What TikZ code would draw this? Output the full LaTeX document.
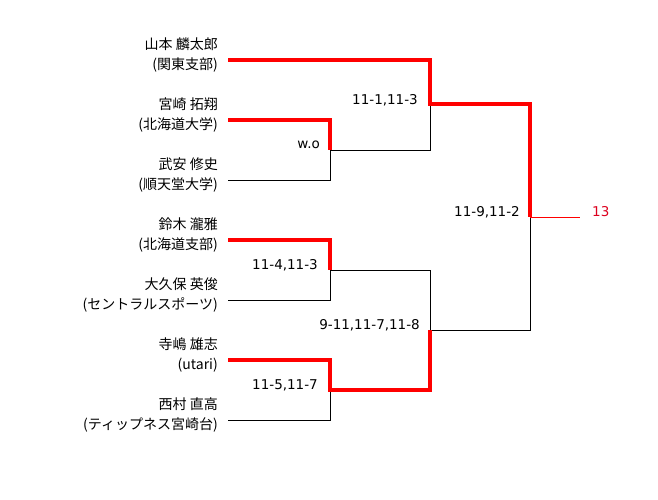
\documentclass[tikz,border=0pt]{standalone}
\usepackage{fontspec}
\setmainfont{Noto Sans CJK JP}
\newfontfamily\scorefont{DejaVu Sans}
\definecolor{winred}{RGB}{255,0,0}
\definecolor{champ}{RGB}{220,0,30}
\begin{document}
\begin{tikzpicture}[x=1pt,y=-1pt,
  namebox/.style={anchor=east,align=right,inner sep=0pt,font=\fontsize{14}{20}\selectfont},
  score/.style={anchor=east,inner sep=0pt,font=\scorefont\fontsize{13.5}{16}\selectfont},
  loser/.style={draw=black,line width=1pt},
  winner/.style={draw=winred,line width=4pt,line join=miter},
  champline/.style={draw=winred,line width=1pt}]
\useasboundingbox (0,0) rectangle (658,500);
% players
\node[namebox] (n1) at (218,55) {山本 麟太郎\\(関東支部)};
\node[namebox] (n2) at (218,115) {宮崎 拓翔\\(北海道大学)};
\node[namebox] (n3) at (218,175) {武安 修史\\(順天堂大学)};
\node[namebox] (n4) at (218,235) {鈴木 瀧雅\\(北海道支部)};
\node[namebox] (n5) at (218,295) {大久保 英俊\\(セントラルスポーツ)};
\node[namebox] (n6) at (218,355) {寺嶋 雄志\\(utari)};
\node[namebox] (n7) at (218,415) {西村 直高\\(ティップネス宮崎台)};
% line starts
\coordinate (a1) at (228,60);
\coordinate (a2) at (228,120);
\coordinate (a3) at (228,180);
\coordinate (a4) at (228,240);
\coordinate (a5) at (228,300);
\coordinate (a6) at (228,360);
\coordinate (a7) at (228,420);
% match points
\coordinate (m1) at (330,150);
\coordinate (m2) at (330,270);
\coordinate (m3) at (330,390);
\coordinate (s1) at (430,104);
\coordinate (s2) at (430,330);
\coordinate (f) at (530,217);
\coordinate (w) at (580,217);
% losers
\draw[loser] (a3) -| (m1);
\draw[loser] (m1) -| (s1);
\draw[loser] (a5) -| (m2);
\draw[loser] (m2) -| (s2);
\draw[loser] (a7) -| (m3);
\draw[loser] (s2) -| (f);
% winners
\draw[winner] (a2) -| (m1);
\draw[winner] (a4) -| (m2);
\draw[winner] (a6) -| (m3) -| (s2);
\draw[winner] (a1) -| (s1) -| (f);
\draw[champline] (f) -- (w);
% scores
\node[score] (sc1) at (320,145) {w.o};
\node[score] (sc2) at (418,100) {11-1,11-3};
\node[score] (sc3) at (318,265) {11-4,11-3};
\node[score] (sc4) at (318,385) {11-5,11-7};
\node[score] (sc5) at (420,325) {9-11,11-7,11-8};
\node[score] (sc6) at (520,212) {11-9,11-2};
\node[score,anchor=west,text=champ] (res) at (592,212) {13};
\end{tikzpicture}
\end{document}
